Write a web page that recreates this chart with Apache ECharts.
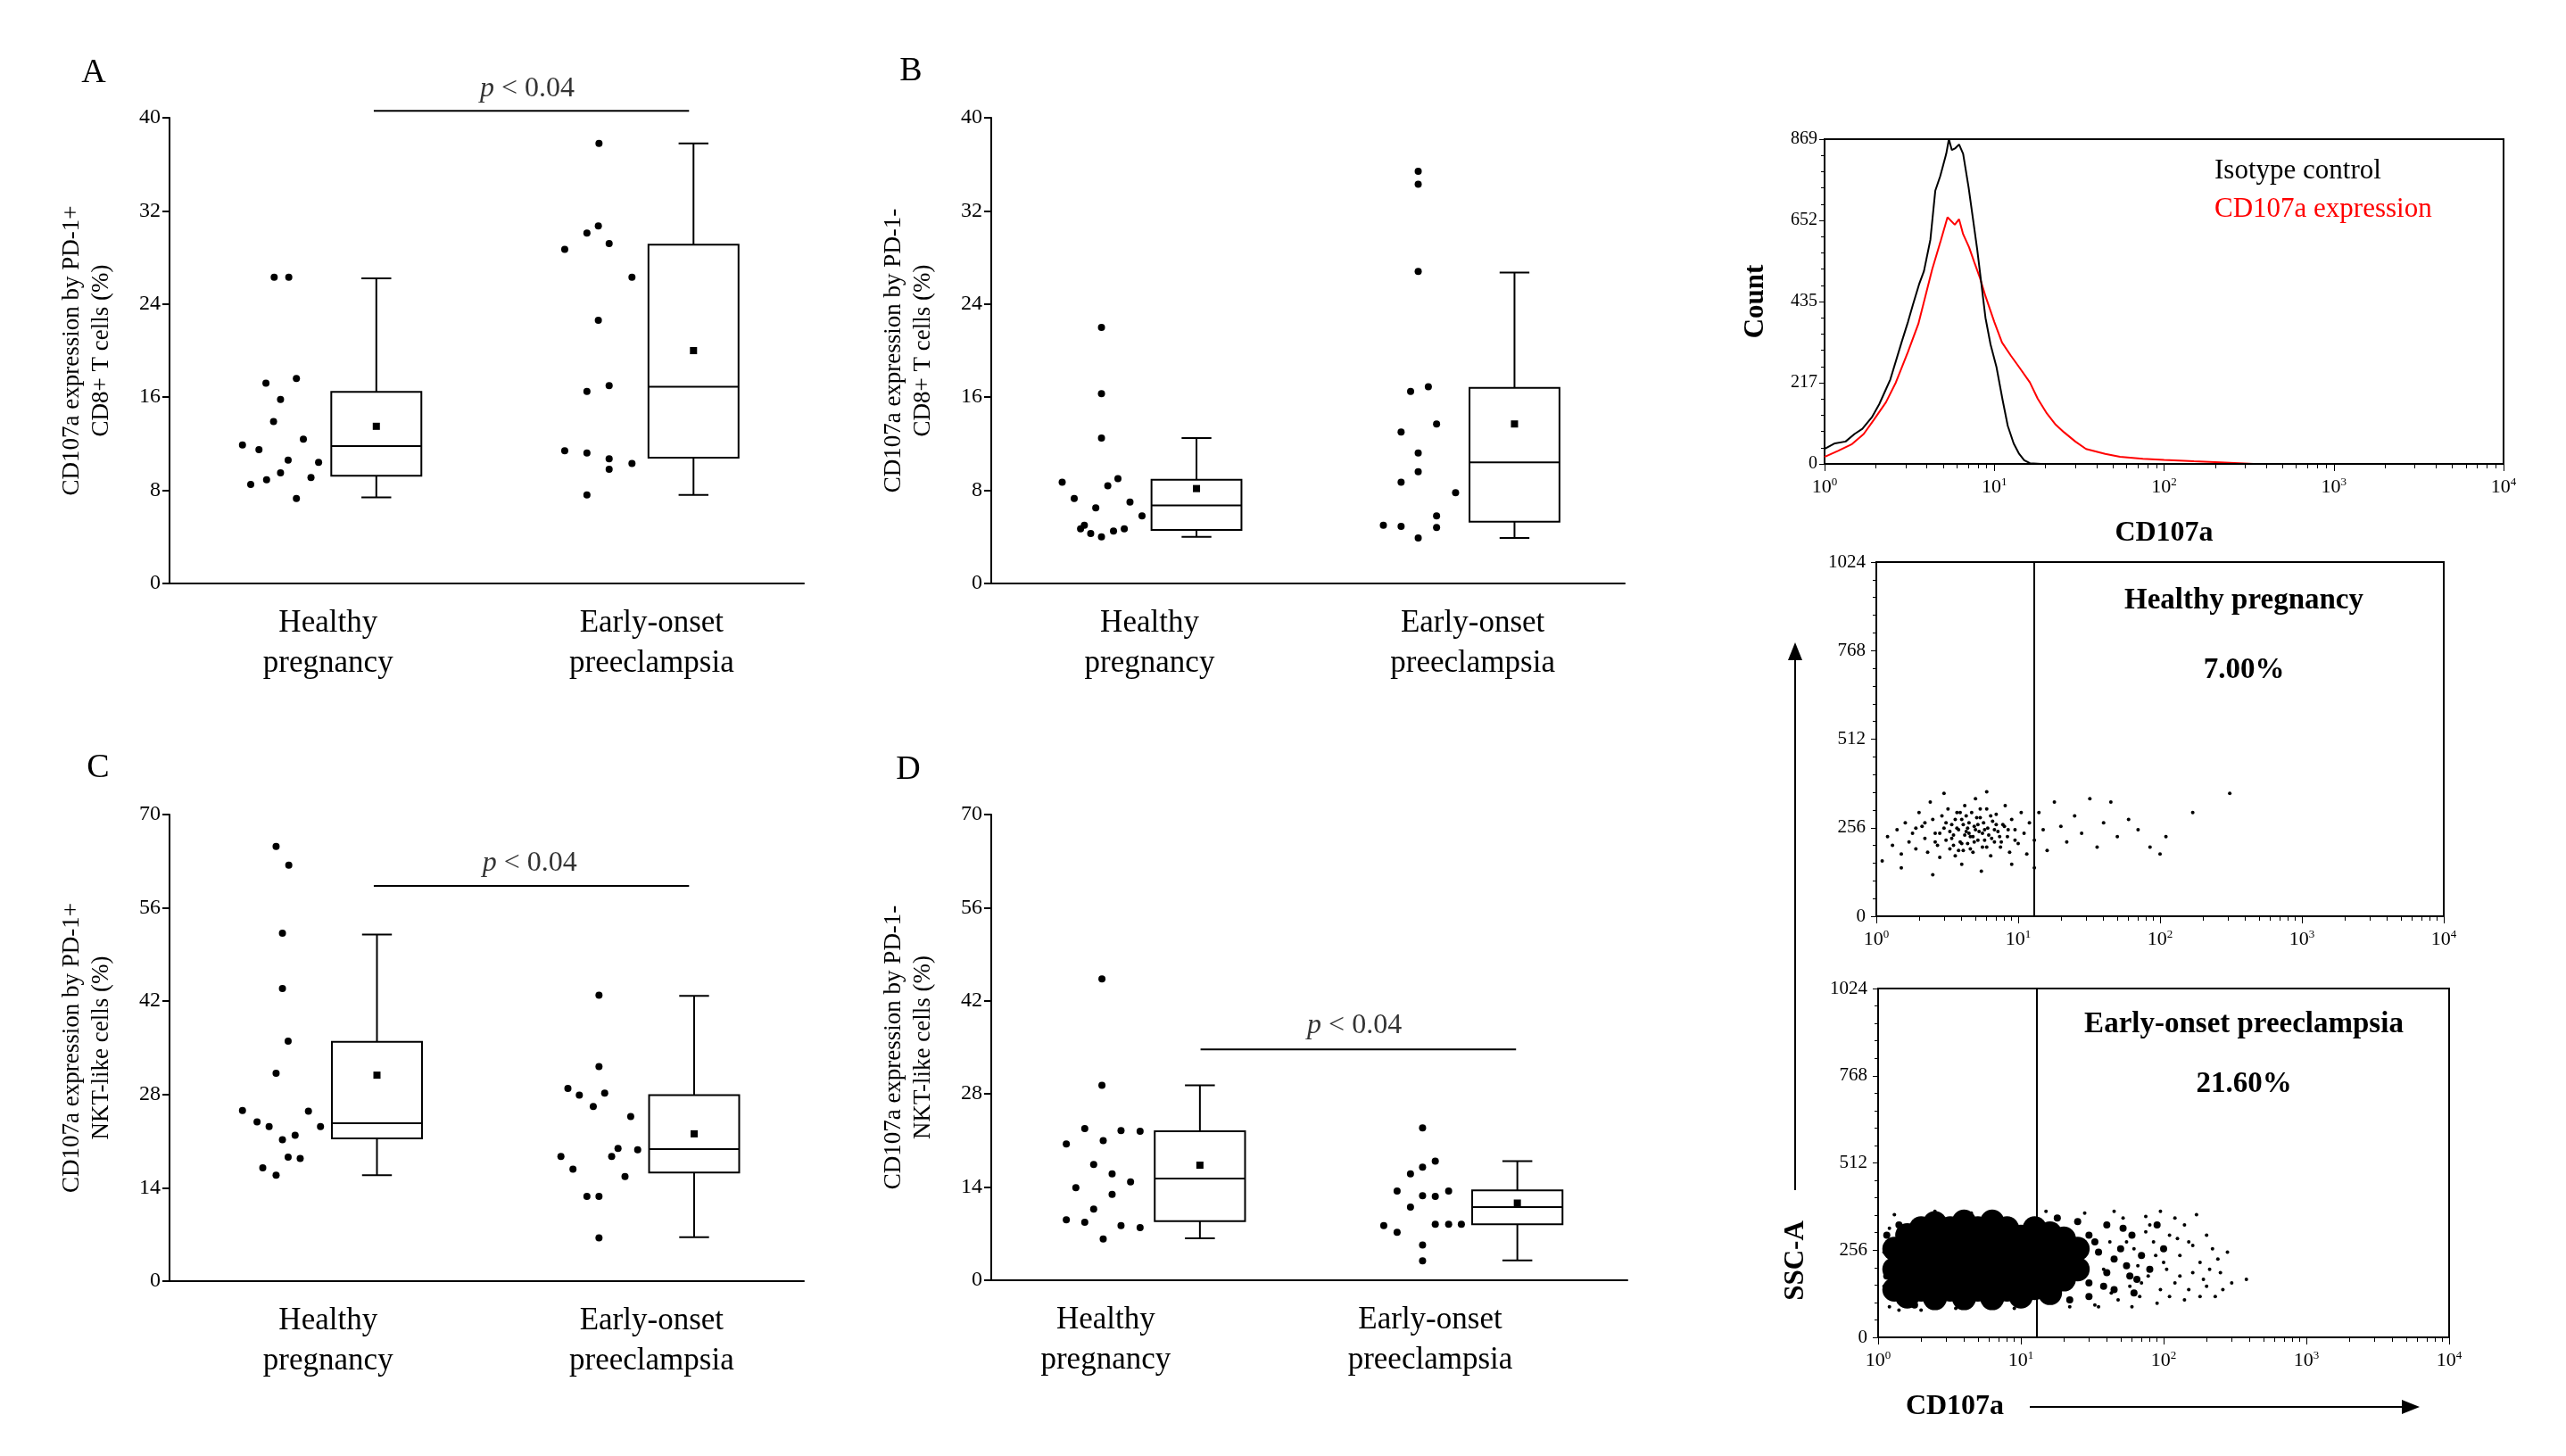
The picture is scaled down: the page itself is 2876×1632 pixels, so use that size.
<!DOCTYPE html>
<html><head><meta charset="utf-8">
<script src="https://cdn.jsdelivr.net/npm/echarts@6/dist/echarts.min.js"></script>
<style>html,body{margin:0;padding:0;background:#fff}#c{width:2876px;height:1632px}</style>
</head><body><div id="c"></div>
<script>
// ---------- DATA ----------
const catLabels = ['Healthy\npregnancy', 'Early-onset\npreeclampsia'];
const yTicksCD8 = [0, 40, 8];
const yTicksNKT = [0, 70, 14];
// box stats: [xPos, min, q1, median, q3, max, mean]
const boxA = [[32.6, 7.4, 9.25, 11.8, 16.45, 26.2, 13.5], [82.6, 7.6, 10.8, 16.9, 29.1, 37.8, 20.0]];
const boxB = [[32.4, 4.0, 4.6, 6.7, 8.9, 12.5, 8.15], [82.6, 3.9, 5.3, 10.4, 16.8, 26.7, 13.7]];
const boxC = [[32.7, 15.9, 21.4, 23.7, 35.9, 52.0, 30.9], [82.7, 6.6, 16.3, 19.8, 27.9, 42.8, 22.1]];
const boxD = [[32.8, 6.3, 8.9, 15.3, 22.4, 29.3, 17.3], [82.7, 3.0, 8.4, 11.0, 13.5, 17.9, 11.6]];
// dots: [jitterX, value]
const dotsA = [[16.5,26.3],[18.8,26.3],[15.2,17.2],[20.0,17.6],[17.5,15.8],[16.4,13.9],[11.5,11.9],[14.1,11.5],[21.1,12.4],[18.7,10.6],[23.5,10.4],[17.5,9.5],[15.3,8.9],[22.3,9.1],[12.8,8.5],[20.0,7.3],
  [67.7,37.8],[65.8,30.1],[67.6,30.7],[69.3,29.2],[62.3,28.7],[72.9,26.3],[67.6,22.6],[65.8,16.5],[69.3,17.0],[62.3,11.4],[65.8,11.2],[69.3,10.7],[72.9,10.3],[69.3,9.8],[65.8,7.6]];
const dotsB = [[17.4,22.0],[17.4,16.3],[17.4,12.5],[11.2,8.7],[20.0,9.0],[18.4,8.4],[13.1,7.3],[21.9,7.0],[16.5,6.5],[23.8,5.8],[14.7,5.0],[14.1,4.7],[21.0,4.7],[19.3,4.5],[15.7,4.3],[17.4,4.0],
  [67.4,35.4],[67.4,34.3],[67.4,26.8],[66.2,16.5],[69.0,16.9],[70.3,13.7],[64.7,13.0],[67.4,11.2],[67.4,9.6],[64.7,8.7],[73.3,7.8],[70.3,5.8],[70.3,4.8],[61.9,5.0],[64.7,4.9],[67.4,3.9]];
const dotsC = [[16.8,65.2],[18.8,62.4],[17.8,52.2],[17.8,43.9],[18.7,36.0],[16.8,31.2],[11.5,25.6],[13.8,23.9],[15.7,23.2],[21.9,25.5],[23.8,23.2],[17.8,21.2],[19.8,21.9],[18.7,18.6],[20.6,18.4],[14.7,17.0],[16.8,15.9],
  [67.7,42.9],[67.7,32.2],[62.8,28.9],[64.6,27.9],[68.6,28.2],[66.8,26.2],[72.7,24.7],[70.7,19.9],[73.8,19.7],[69.7,18.7],[61.7,18.7],[63.6,16.8],[71.8,15.7],[65.8,12.7],[67.7,12.7],[67.7,6.5]];
const dotsD = [[17.4,45.3],[17.4,29.3],[14.7,22.8],[20.4,22.5],[23.4,22.4],[11.8,20.5],[17.6,21.0],[16.1,17.4],[19.0,16.0],[21.9,14.8],[13.3,13.9],[19.0,12.9],[16.1,10.7],[11.8,9.1],[14.7,8.7],[20.4,8.2],[23.4,7.9],[17.6,6.2],
  [67.8,22.9],[69.8,17.9],[67.8,17.0],[65.9,16.0],[63.8,13.4],[71.9,13.4],[67.8,12.7],[69.8,12.6],[65.9,11.0],[61.7,8.2],[69.8,8.4],[71.9,8.4],[73.9,8.4],[63.8,7.2],[67.8,5.3],[67.8,2.9]];
// significance bars: [x1, x2, y, textX, textY]
const sigA = [32.2, 81.9, 40.6, 56.4, 42.5];
const sigC = [32.2, 81.9, 59.3, 56.8, 62.7];
const sigD = [32.9, 82.5, 34.7, 57.1, 38.3];
// histogram [CD107a, count]
const histIso = [[1.0,40],[1.15,55],[1.33,60],[1.5,80],[1.67,94],[1.9,125],[2.1,160],[2.3,200],[2.44,226],[2.84,325],[3.1,380],[3.31,425],[3.6,480],[3.85,516],[4.2,600],[4.49,731],[4.8,770],[5.0,800],[5.21,830],[5.4,869],[5.62,840],[5.9,845],[6.2,855],[6.55,830],[7.06,739],[7.93,574],[8.87,391],[9.5,320],[10.3,259],[11.2,170],[12.0,102],[13.0,55],[14.0,27],[15.0,10],[16.2,2],[18.9,0],[10000,0]];
const histCD = [[1.0,19],[1.2,35],[1.44,52],[1.7,80],[1.95,118],[2.3,165],[2.63,218],[3.1,300],[3.57,375],[4.3,520],[4.84,598],[5.3,660],[5.85,640],[6.2,655],[6.55,615],[7.1,580],[7.62,540],[8.2,500],[8.87,449],[10,380],[11.1,325],[12.5,290],[14.0,259],[16.2,218],[18,175],[20.4,135],[23,105],[25.7,85],[30,60],[34.7,40],[45,27],[55,19],[75,14],[100,11],[150,7],[214,4],[339,0],[10000,0]];
const histYTicks = [0, 869];
// dot plots [CD107a, SSC-A]
const dotHealthy = [[1.2,230],[1.3,205],[1.4,250],[1.5,180],[1.6,270],[1.7,215],[1.8,240],[1.9,195],[2.0,300],[2.1,260],[2.2,225],[2.3,185],[2.4,330],[2.5,280],[2.6,240],[2.7,205],[2.8,170],[2.9,290],[3.0,255],[3.1,220],[3.2,310],[3.3,195],[3.4,265],[3.5,235],[3.6,175],[3.7,300],[3.8,250],[3.9,215],[4.0,280],[4.1,190],[4.2,320],[4.3,245],[4.4,210],[4.5,270],[4.6,230],[4.7,300],[4.8,185],[4.9,260],[5.0,340],[5.2,220],[5.4,285],[5.6,200],[5.8,250],[6.0,310],[6.2,235],[6.4,175],[6.6,275],[6.8,215],[7.0,295],[7.2,245],[7.5,200],[7.8,265],[8.1,320],[8.4,230],[8.7,185],[9.0,280],[9.5,250],[10,210],[10.5,300],[11,240],[11.5,180],[12,270],[13,220],[14,300],[15,250],[16,190],[18,330],[20,260],[22,215],[25,290],[28,240],[32,340],[36,200],[40,270],[45,330],[50,230],[60,280],[70,250],[85,200],[100,180],[110,230],[170,300],[310,355],[1.1,160],[1.5,140],[2.5,120],[4,150],[5.5,130],[3,355],[6,360],[9,150],[13,140],
  [3.3,245],[3.6,280],[4.0,210],[4.4,255],[4.8,230],[5.2,265],[5.6,240],[6.0,200],[6.4,290],[6.8,250],[3.5,205],[4.2,235],[5.0,250],[5.8,220],[7.4,230],[8.0,260],[2.8,240],[3.9,300],[4.6,195],[5.4,310],
  [3.1,270],[3.4,225],[3.7,255],[4.1,265],[4.5,240],[4.9,215],[5.3,245],[5.7,270],[6.1,255],[6.5,225],[7.0,265],[7.6,215],[8.5,250],[3.8,190],[4.3,290],[5.1,285],[2.6,215],[2.2,270],[1.9,255],[9.5,220]];
const dotPreBlob = [[1.3,140],[1.3,200],[1.3,260],[1.6,120],[1.6,180],[1.6,240],[1.6,300],[2,140],[2,200],[2,260],[2,320],[2.5,115],[2.5,170],[2.5,230],[2.5,290],[2.5,335],[3.2,140],[3.2,200],[3.2,260],[3.2,320],[4,115],[4,170],[4,230],[4,290],[4,340],[5,140],[5,200],[5,260],[5,320],[6.3,115],[6.3,170],[6.3,230],[6.3,290],[6.3,340],[8,140],[8,200],[8,260],[8,320],[10,120],[10,175],[10,235],[10,295],[12.5,145],[12.5,205],[12.5,265],[12.5,320],[16,130],[16,190],[16,250],[16,305],[20,170],[20,230],[20,290],[25,200],[25,260]];
const dotPreMid = [[1.15,180],[1.15,300],[1.4,330],[1.5,100],[1.8,95],[30,160],[30,300],[35,250],[40,190],[40,330],[45,140],[50,260],[55,210],[60,300],[65,170],[70,240],[80,200],[90,330],[100,260],[30,120],[25,340],[22,110],[18,350],[28,210],[33,280],[38,150],[45,230],[52,320],[58,180],[62,130]];
const dotPreSmall = [[1.1,150],[1.1,250],[1.2,320],[1.2,90],[1.3,360],[1.4,80],[1.5,230],[2,80],[2.5,370],[3.5,85],[4.5,365],[7,360],[9,85],[15,370],[22,90],[28,365],[33,95],[38,200],[42,280],[48,110],[52,350],[58,150],[62,260],[68,120],[75,310],[78,180],[85,280],[95,140],[105,200],[110,300],[120,160],[130,240],[140,110],[150,280],[160,190],[180,220],[200,150],[220,260],[250,190],[280,250],[300,160],[380,170],[120,350],[95,370],[170,360],[140,330],[200,300],[90,100],[110,120],[60,90],[230,120],[150,140],[180,120],[75,355],[45,370],[35,90],[70,160],[80,330],[100,220],[130,180],[160,270],[190,170],[240,230],[260,140],[210,200],[125,290],[88,240],[66,210],[55,280],[43,130]];
const dotYTicks = [0, 1024, 256];
const gateX = 12.9;
const healthyPct = '7.00%';
const prePct = '21.60%';

// ---------- CHART ----------
const F = 'Liberation Serif';
const grids = [
  {left:190, top:132, width:711, height:522},
  {left:1111, top:132, width:710, height:522},
  {left:190, top:913, width:711, height:523},
  {left:1111, top:913, width:713, height:522},
  {left:2045, top:156, width:761, height:364, show:true, borderColor:'#000', borderWidth:2},
  {left:2103, top:630, width:636, height:397, show:true, borderColor:'#000', borderWidth:2},
  {left:2105, top:1108, width:640, height:391, show:true, borderColor:'#000', borderWidth:2}
];
const labelPos = [[25,76],[25,76],[25,76],[18,69]];
const xAxes = [], yAxes = [];
const yNames = ['CD107a expression by PD-1+\nCD8+ T cells (%)','CD107a expression by PD-1-\nCD8+ T cells (%)','CD107a expression by PD-1+\nNKT-like cells (%)','CD107a expression by PD-1-\nNKT-like cells (%)'];
for (let i = 0; i < 4; i++) {
  const lp = labelPos[i];
  xAxes.push({type:'value', gridIndex:i, min:0, max:100, interval:1,
    axisLine:{lineStyle:{color:'#000', width:2}}, axisTick:{show:false}, splitLine:{show:false},
    axisLabel:{margin:22, fontFamily:F, fontSize:35, lineHeight:45, color:'#000',
      formatter:v => v === lp[0] ? catLabels[0] : (v === lp[1] ? catLabels[1] : '')}});
  const t = i < 2 ? yTicksCD8 : yTicksNKT;
  yAxes.push({type:'value', gridIndex:i, min:t[0], max:t[1], interval:t[2],
    name:yNames[i], nameLocation:'middle', nameGap:60, nameTextStyle:{fontFamily:F, fontSize:27, lineHeight:33, color:'#000'},
    axisLine:{show:true, lineStyle:{color:'#000', width:2}}, axisTick:{show:true, length:8, lineStyle:{color:'#000', width:2}},
    splitLine:{show:false}, axisLabel:{fontFamily:F, fontSize:24, color:'#000', margin:10}});
}
const supFmt = v => { const e = Math.round(Math.log10(v)); return '10{s|' + e + '}'; };
const logLabel = {fontFamily:F, fontSize:22, color:'#000', margin:14, formatter:supFmt, rich:{s:{fontSize:13, fontFamily:F, padding:[0,0,12,0], color:'#000'}}};
for (let g = 4; g < 7; g++) {
  xAxes.push({type:'log', gridIndex:g, min:1, max:10000, logBase:10,
    axisLine:{lineStyle:{color:'#000', width:2}}, axisTick:{show:true, length:8, lineStyle:{color:'#000'}},
    minorTick:{show:true, splitNumber:9, length:5, lineStyle:{color:'#000'}}, splitLine:{show:false}, axisLabel:logLabel});
}
yAxes.push({type:'value', gridIndex:4, min:histYTicks[0], max:histYTicks[1], interval:(histYTicks[1]-histYTicks[0])/4,
  name:'Count', nameLocation:'middle', nameGap:62, nameTextStyle:{fontFamily:F, fontSize:31, fontWeight:'bold', color:'#000'},
  axisLine:{show:true, lineStyle:{color:'#000', width:2}}, axisTick:{show:true, length:6}, minorTick:{show:true, splitNumber:5, length:4, lineStyle:{color:'#000'}},
  splitLine:{show:false}, axisLabel:{fontFamily:F, fontSize:20, color:'#000', margin:8, formatter:v => String(Math.round(v))}});
for (let g = 5; g < 7; g++) {
  yAxes.push({type:'value', gridIndex:g, min:dotYTicks[0], max:dotYTicks[1], interval:dotYTicks[2],
    axisLine:{show:true, lineStyle:{color:'#000', width:2}}, axisTick:{show:true, length:6}, minorTick:{show:true, splitNumber:5, length:4, lineStyle:{color:'#000'}},
    splitLine:{show:false}, axisLabel:{fontFamily:F, fontSize:21, color:'#000', margin:12, formatter:v => String(v)}});
}
xAxes[4].name = 'CD107a'; xAxes[4].nameLocation = 'middle'; xAxes[4].nameGap = 62;
xAxes[4].nameTextStyle = {fontFamily:F, fontSize:32, fontWeight:'bold', color:'#000'};

const BOXW = 14.2, CAPW = 4.7;
function boxSeries(data, gi) {
  return {type:'custom', xAxisIndex:gi, yAxisIndex:gi, data:data, clip:false, z:3,
    renderItem:(params, api) => {
      const x = api.value(0);
      const yMin = api.coord([x, api.value(1)])[1], yQ1 = api.coord([x, api.value(2)])[1], yMed = api.coord([x, api.value(3)])[1],
        yQ3 = api.coord([x, api.value(4)])[1], yMax = api.coord([x, api.value(5)])[1], pMean = api.coord([x, api.value(6)]);
      const cx = api.coord([x, 0])[0], L = api.coord([x - BOXW/2, 0])[0], R = api.coord([x + BOXW/2, 0])[0];
      const cL = api.coord([x - CAPW/2, 0])[0], cR = api.coord([x + CAPW/2, 0])[0];
      const st = {stroke:'#000', lineWidth:2, fill:null};
      return {type:'group', children:[
        {type:'line', shape:{x1:cx, y1:yQ3, x2:cx, y2:yMax}, style:st},
        {type:'line', shape:{x1:cL, y1:yMax, x2:cR, y2:yMax}, style:st},
        {type:'line', shape:{x1:cx, y1:yQ1, x2:cx, y2:yMin}, style:st},
        {type:'line', shape:{x1:cL, y1:yMin, x2:cR, y2:yMin}, style:st},
        {type:'rect', shape:{x:L, y:yQ3, width:R-L, height:yQ1-yQ3}, style:{stroke:'#000', lineWidth:2, fill:'#fff'}},
        {type:'line', shape:{x1:L, y1:yMed, x2:R, y2:yMed}, style:st},
        {type:'rect', shape:{x:pMean[0]-4, y:pMean[1]-4, width:8, height:8}, style:{fill:'#000'}}
      ]};
    }};
}
const solid = {color:'#000', opacity:1};
function dotSeries(data, gi) {
  return {type:'scatter', xAxisIndex:gi, yAxisIndex:gi, data:data, symbol:'circle', symbolSize:8, itemStyle:solid, silent:true};
}
function sigSeries(s, gi) {
  return [
    {type:'line', xAxisIndex:gi, yAxisIndex:gi, data:[[s[0], s[2]], [s[1], s[2]]], symbol:'none', clip:false, lineStyle:{color:'#000', width:2}, silent:true},
    {type:'scatter', xAxisIndex:gi, yAxisIndex:gi, data:[[s[3], s[4]]], symbolSize:0, clip:false, silent:true,
      label:{show:true, position:'inside', formatter:'{i|p} < 0.04', fontFamily:F, fontSize:32, color:'#000', rich:{i:{fontStyle:'italic', fontFamily:F, fontSize:32, color:'#000'}}}}
  ];
}
const gate = {silent:true, symbol:'none', label:{show:false}, lineStyle:{color:'#000', width:2, type:'solid'}, data:[{xAxis:gateX}]};
const series = [
  boxSeries(boxA, 0), dotSeries(dotsA, 0), ...sigSeries(sigA, 0),
  boxSeries(boxB, 1), dotSeries(dotsB, 1),
  boxSeries(boxC, 2), dotSeries(dotsC, 2), ...sigSeries(sigC, 2),
  boxSeries(boxD, 3), dotSeries(dotsD, 3), ...sigSeries(sigD, 3),
  {type:'line', xAxisIndex:4, yAxisIndex:4, data:histIso, symbol:'none', lineStyle:{color:'#000', width:2}, z:4, silent:true},
  {type:'line', xAxisIndex:4, yAxisIndex:4, data:histCD, symbol:'none', lineStyle:{color:'#ff0000', width:2}, z:3, silent:true},
  {type:'scatter', xAxisIndex:5, yAxisIndex:5, data:dotHealthy, symbolSize:4, itemStyle:solid, silent:true, markLine:gate},
  {type:'scatter', xAxisIndex:6, yAxisIndex:6, data:dotPreBlob, symbolSize:27, itemStyle:solid, silent:true, markLine:gate},
  {type:'scatter', xAxisIndex:6, yAxisIndex:6, data:dotPreMid, symbolSize:8, itemStyle:solid, silent:true},
  {type:'scatter', xAxisIndex:6, yAxisIndex:6, data:dotPreSmall, symbolSize:4, itemStyle:solid, silent:true}
];
const T = (x, y, text, size, extra) => ({type:'text', x:x, y:y, style:Object.assign({text:text, fontFamily:F, fontSize:size, fill:'#000', textAlign:'center', textVerticalAlign:'middle'}, extra || {})});
const graphic = [
  T(105, 82, 'A', 38), T(1021, 80, 'B', 38), T(110, 861, 'C', 38), T(1018, 863, 'D', 38),
  T(2482, 192, 'Isotype control', 31, {textAlign:'left'}),
  T(2482, 235, 'CD107a expression', 31, {textAlign:'left', fill:'#ff0000'}),
  T(2515, 673, 'Healthy pregnancy', 33, {fontWeight:'bold'}),
  T(2515, 751, healthyPct, 33, {fontWeight:'bold'}),
  T(2515, 1148, 'Early-onset preeclampsia', 33, {fontWeight:'bold'}),
  T(2515, 1215, prePct, 33, {fontWeight:'bold'}),
  {type:'text', x:2013, y:1413, rotation:Math.PI/2, style:{text:'SSC-A', fontFamily:F, fontSize:31, fontWeight:'bold', fill:'#000', textAlign:'center', textVerticalAlign:'middle'}},
  {type:'line', shape:{x1:2012, y1:1334, x2:2012, y2:735}, style:{stroke:'#000', lineWidth:2}},
  {type:'polygon', shape:{points:[[2012,720],[2004,740],[2020,740]]}, style:{fill:'#000'}},
  T(2191, 1577, 'CD107a', 32, {fontWeight:'bold'}),
  {type:'line', shape:{x1:2275, y1:1577, x2:2695, y2:1577}, style:{stroke:'#000', lineWidth:2}},
  {type:'polygon', shape:{points:[[2712,1577],[2692,1569],[2692,1585]]}, style:{fill:'#000'}}
];
const chart = echarts.init(document.getElementById('c'));
chart.setOption({backgroundColor:'#fff', animation:false, grid:grids, xAxis:xAxes, yAxis:yAxes, series:series, graphic:graphic});
</script></body></html>
